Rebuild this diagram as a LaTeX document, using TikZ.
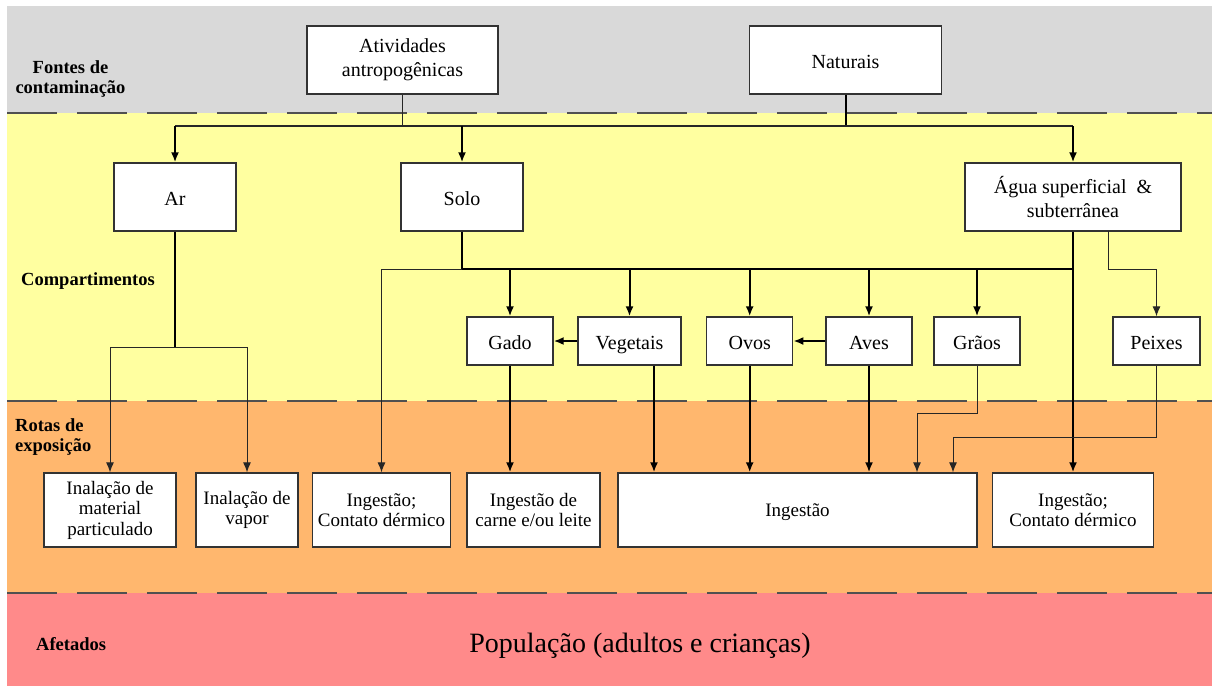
\documentclass[tikz,border=0pt]{standalone}
\usepackage{fontspec}
\setmainfont{Liberation Serif}
\usetikzlibrary{arrows.meta,calc}
\definecolor{bgray}{RGB}{217,217,217}
\definecolor{byellow}{RGB}{255,255,160}
\definecolor{borange}{RGB}{255,183,110}
\definecolor{bpink}{RGB}{255,138,138}
\definecolor{dashc}{RGB}{80,80,80}
\newcommand{\fA}{\fontsize{20}{24}\selectfont}
\newcommand{\fB}{\fontsize{19}{20.5}\selectfont}
\newcommand{\fL}{\fontsize{18.5}{20}\selectfont\bfseries}
\tikzset{
  box/.style={draw=black!80, line width=1.3pt, fill=white, align=center, inner sep=0pt},
  oneline/.style={text height=19pt, text depth=3pt},
  onelineB/.style={text height=16pt, text depth=3pt},
  thinl/.style={draw=black!85, line width=1pt},
  thickl/.style={draw=black, line width=2pt},
  thinarr/.style={thinl, -{Latex[length=10pt,width=8pt]}},
  thickarr/.style={thickl, -{Latex[length=10pt,width=8pt]}},
  sep/.style={draw=dashc, line width=2pt, dash pattern=on 50pt off 20pt},
  lbl/.style={font=\fL, inner sep=0pt}
}
\begin{document}
\begin{tikzpicture}[x=1pt,y=-1pt]
\useasboundingbox (0,0) rectangle (1212,686);
% bands
\fill[bgray] (7,6) rectangle (1212,113);
\fill[byellow] (7,113) rectangle (1212,401);
\fill[borange] (7,401) rectangle (1212,593);
\fill[bpink] (7,593) rectangle (1212,686);
\draw[sep] (7,113) -- (1212,113);
\draw[sep] (7,401) -- (1212,401);
\draw[sep] (7,593) -- (1212,593);
% labels
\node[lbl, align=center] (lf) at (70.5,78.5) {Fontes de\\contamina\c{c}\~ao};
\node[lbl, anchor=base west] (lc) at (21,285) {Compartimentos};
\node[lbl, align=left, anchor=west] (lr) at (15,437) {Rotas de\\exposi\c{c}\~ao};
\node[lbl, anchor=base west] (la) at (36,650) {Afetados};
\node[inner sep=0pt, anchor=base, font=\fontsize{28}{32}\selectfont] (pop) at (640,652) {População (adultos e crianças)};
% sources
\node[box, font=\fA, minimum width=191pt, minimum height=68pt] (atv) at (402.5,60) {Atividades\\antropogênicas};
\node[box, oneline, font=\fA, minimum width=192pt, minimum height=68pt] (nat) at (845.5,60) {Naturais};
% compartments
\node[box, oneline, font=\fA, minimum width=122pt, minimum height=68pt] (ar) at (175,197) {Ar};
\node[box, oneline, font=\fA, minimum width=122pt, minimum height=68pt] (solo) at (462,197) {Solo};
\node[box, font=\fA, minimum width=216pt, minimum height=68pt] (agua) at (1073,197) {Água superficial \ \&\\subterrânea};
\node[box, oneline, font=\fA, minimum width=86pt, minimum height=48pt] (gado) at (510,341) {Gado};
\node[box, oneline, font=\fA, minimum width=103pt, minimum height=48pt] (veg) at (629.5,341) {Vegetais};
\node[box, oneline, font=\fA, minimum width=86pt, minimum height=48pt] (ovos) at (749.7,341) {Ovos};
\node[box, oneline, font=\fA, minimum width=86pt, minimum height=48pt] (aves) at (869,341) {Aves};
\node[box, oneline, font=\fA, minimum width=86pt, minimum height=48pt] (graos) at (977,341) {Grãos};
\node[box, oneline, font=\fA, minimum width=87pt, minimum height=48pt] (peixes) at (1156.5,341) {Peixes};
% routes
\node[box, font=\fB, minimum width=132pt, minimum height=74pt] (inm) at (110,510) {Inalação de\\material\\particulado};
\node[box, font=\fB, minimum width=102pt, minimum height=74pt] (inv) at (247,510) {Inalação de\\vapor};
\node[box, font=\fB, minimum width=138pt, minimum height=74pt] (icd) at (381.5,510) {Ingestão;\\Contato dérmico};
\node[box, font=\fB, minimum width=133pt, minimum height=74pt] (icl) at (533.5,510) {Ingestão de\\carne e/ou leite};
\node[box, onelineB, font=\fB, minimum width=359pt, minimum height=74pt] (ing) at (797.5,510) {Ingestão};
\node[box, font=\fB, minimum width=161.5pt, minimum height=74pt] (icd2) at (1073,510) {Ingestão;\\Contato dérmico};
% helper coordinates
\coordinate (busA) at (0,126);
\coordinate (busB) at (0,269);
\coordinate (splitAr) at (0,347);
\coordinate (ap) at (1108.6,231);
\coordinate (vegout) at ($(veg.south)+(24.5,0)$);
\coordinate (gA) at (977,413);
\coordinate (gB) at (917,413);
\coordinate (pA) at (1156.5,437);
\coordinate (pB) at (953,437);
% sources to compartments
\draw[thinl] (atv.south) -- (atv.south |- busA);
\draw[thickl] (nat.south) -- (nat.south |- busA);
\draw[thinl, line width=1.4pt] (ar.north |- busA) -- (agua.north |- busA);
\draw[thickarr] (ar.north |- busA) -- (ar.north);
\draw[thickarr] (solo.north |- busA) -- (solo.north);
\draw[thickarr] (agua.north |- busA) -- (agua.north);
% Ar
\draw[thickl] (ar.south) -- (ar.south |- splitAr);
\draw[thinl] (inm.north |- splitAr) -- (inv.north |- splitAr);
\draw[thinarr] (inm.north |- splitAr) -- (inm.north);
\draw[thinarr] (inv.north |- splitAr) -- (inv.north);
% Solo
\draw[thickl] (solo.south) -- (solo.south |- busB);
\draw[thinl] (solo.south |- busB) -- (icd.north |- busB);
\draw[thinarr] (icd.north |- busB) -- (icd.north);
\draw[thickl] (solo.south |- busB) -- (agua.south |- busB);
\draw[thickarr] (gado.north |- busB) -- (gado.north);
\draw[thickarr] (veg.north |- busB) -- (veg.north);
\draw[thickarr] (ovos.north |- busB) -- (ovos.north);
\draw[thickarr] (aves.north |- busB) -- (aves.north);
\draw[thickarr] (graos.north |- busB) -- (graos.north);
% water
\draw[thickarr] (agua.south) -- (icd2.north);
\draw[thinarr] (ap) -- (ap |- busB) -| (peixes.north);
% between compartments
\draw[thickarr] (veg.west) -- (gado.east);
\draw[thickarr] (aves.west) -- (ovos.east);
% to routes
\draw[thickarr] (gado.south) -- (gado.south |- icl.north);
\draw[thickarr] (vegout) -- (vegout |- ing.north);
\draw[thickarr] (ovos.south) -- (ovos.south |- ing.north);
\draw[thickarr] (aves.south) -- (aves.south |- ing.north);
\draw[thinarr] (graos.south) -- (gA) -- (gB) -- (gB |- ing.north);
\draw[thinarr] (peixes.south) -- (pA) -- (pB) -- (pB |- ing.north);
\end{tikzpicture}
\end{document}
